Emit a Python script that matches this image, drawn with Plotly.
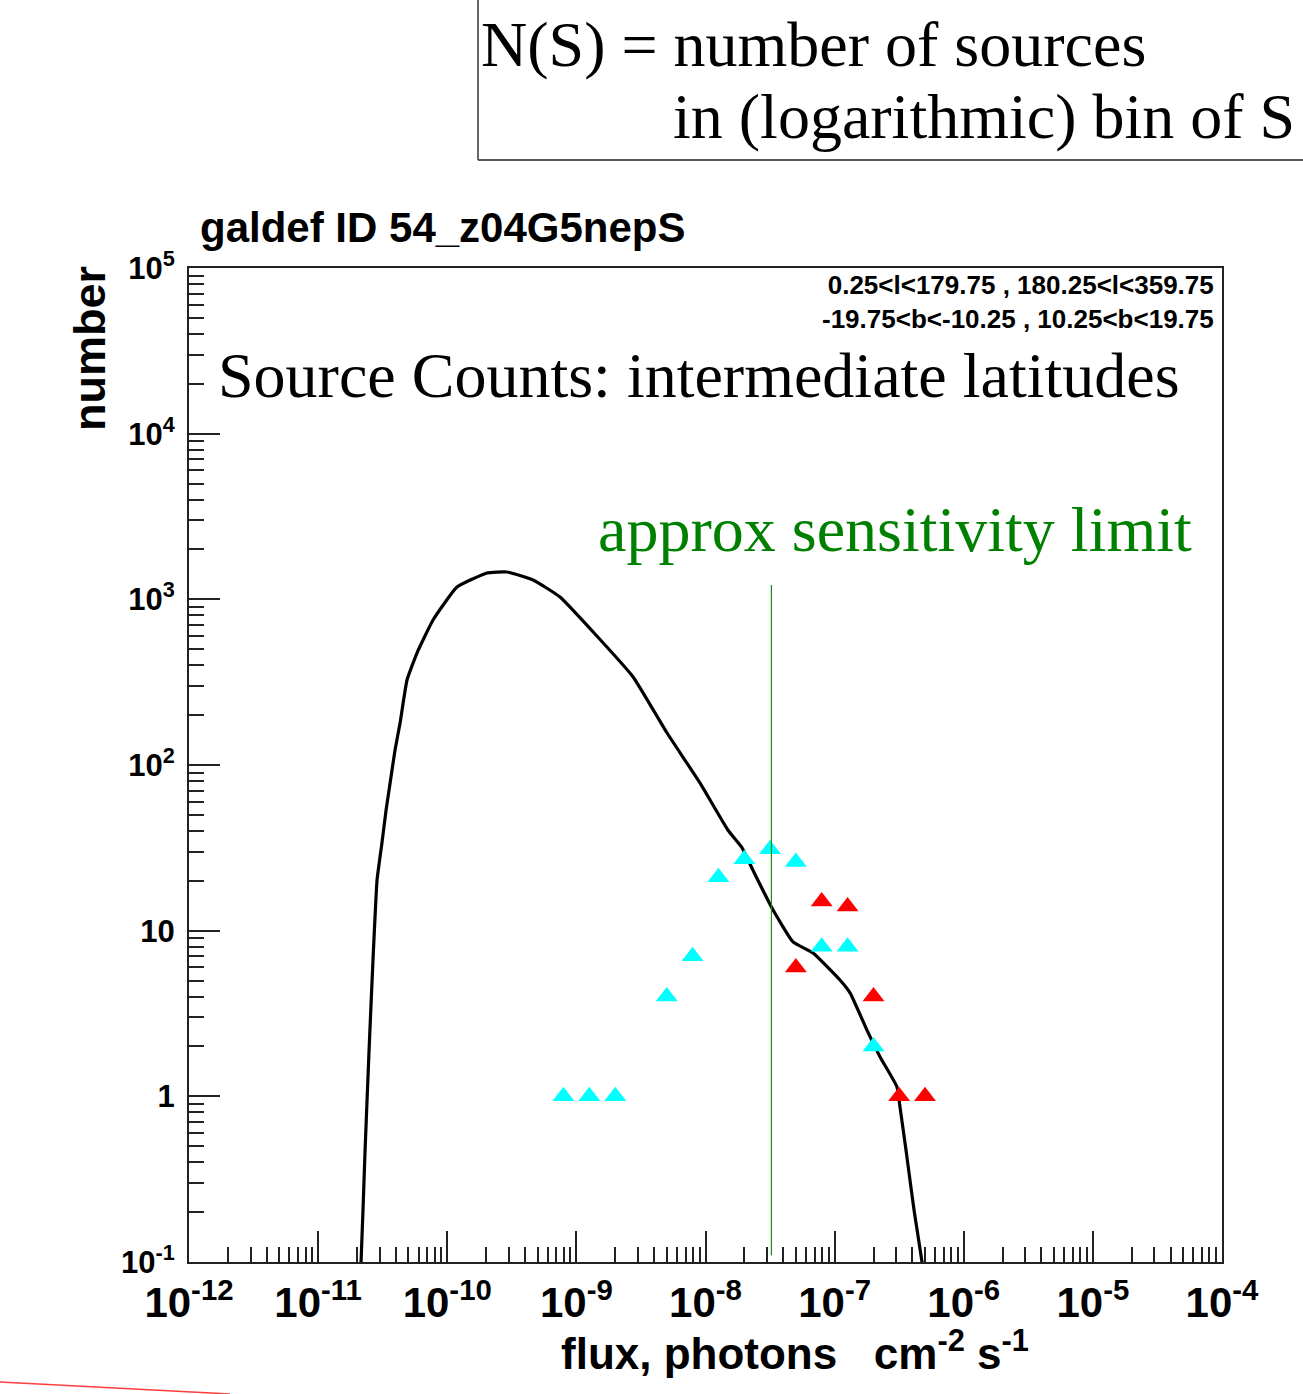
import plotly.graph_objects as go

# ---------------- data ----------------
# model curve N(S)
curve_flux = [2.04e-11, 2.15e-11, 2.31e-11, 2.48e-11, 2.66e-11, 2.86e-11, 3.12e-11, 3.36e-11,
              3.61e-11, 3.94e-11, 4.31e-11, 4.88e-11, 5.83e-11, 7.76e-11, 1.19e-10, 2.03e-10,
              2.90e-10, 4.62e-10, 7.47e-10, 1.35e-9, 2.75e-9, 5.04e-9, 9.06e-9, 1.49e-8,
              1.92e-8, 2.33e-8, 3.27e-8, 4.76e-8, 6.81e-8, 1.10e-7, 1.32e-7, 1.78e-7,
              2.25e-7, 3.04e-7, 3.21e-7, 3.57e-7, 4.12e-7, 4.75e-7, 5.01e-7]
curve_number = [0.059, 0.1, 0.474, 1.9, 6.65, 20.2, 33.8, 53.5,
                77.9, 123, 179, 326, 474, 750, 1186, 1442,
                1462, 1309, 1033, 635, 340, 156, 77.9, 40.5,
                31.6, 23.2, 13.7, 8.55, 7.33, 5.04, 4.2, 2.51,
                1.73, 1.14, 0.86, 0.474, 0.206, 0.1, 0.068]

# cyan triangles
cyan_flux = [7.94e-10, 1.26e-9, 2.0e-9, 5.01e-9, 7.94e-9, 1.26e-8, 2.0e-8, 3.16e-8,
             5.01e-8, 7.94e-8, 1.26e-7, 2.0e-7]
cyan_number = [1, 1, 1, 4, 7, 21, 27, 31, 26, 8, 8, 2]

# red triangles
red_flux = [5.01e-8, 7.94e-8, 1.26e-7, 2.0e-7, 3.16e-7, 5.01e-7]
red_number = [6, 15, 14, 4, 1, 1]

# sensitivity limit
sens_flux = 3.24e-8
sens_range = [0.11, 1220]

x_tickvals = [1e-12, 1e-11, 1e-10, 1e-9, 1e-8, 1e-7, 1e-6, 1e-5, 1e-4]
x_ticktext = ["<b>10<sup>-12</sup></b>", "<b>10<sup>-11</sup></b>", "<b>10<sup>-10</sup></b>",
              "<b>10<sup>-9</sup></b>", "<b>10<sup>-8</sup></b>", "<b>10<sup>-7</sup></b>",
              "<b>10<sup>-6</sup></b>", "<b>10<sup>-5</sup></b>", "<b>10<sup>-4</sup></b>"]
y_tickvals = [0.1, 1, 10, 100, 1000, 10000, 100000]
y_ticktext = ["<b>10<sup>-1</sup></b>", "<b>1</b>", "<b>10</b>", "<b>10<sup>2</sup></b>",
              "<b>10<sup>3</sup></b>", "<b>10<sup>4</sup></b>", "<b>10<sup>5</sup></b>"]

# ---------------- layout helpers ----------------
W, H = 1303, 1394
L, R, T, B = 189, 1222, 268, 1262


def px(x):
    return (x - L) / (R - L)


def py(y):
    return (B - y) / (B - T)


def minor_vals(e0, e1):
    return [m * 10.0 ** e for e in range(e0, e1) for m in range(2, 10)]


SANS = "Liberation Sans, Arial, sans-serif"
SERIF = "Liberation Serif, Times New Roman, serif"

fig = go.Figure()

fig.add_trace(go.Scatter(x=curve_flux, y=curve_number, mode="lines",
                         line=dict(color="black", width=3.2, shape="spline", smoothing=0.4),
                         showlegend=False))
fig.add_trace(go.Scatter(x=cyan_flux, y=cyan_number, mode="markers",
                         marker=dict(symbol="triangle-up", size=19, color="#00FFFF",
                                     line=dict(width=0)), showlegend=False, cliponaxis=False))
fig.add_trace(go.Scatter(x=red_flux, y=red_number, mode="markers",
                         marker=dict(symbol="triangle-up", size=19, color="#FF0000",
                                     line=dict(width=0)), showlegend=False, cliponaxis=False))
fig.add_trace(go.Scatter(x=[sens_flux, sens_flux], y=sens_range, mode="lines",
                         line=dict(color="#1a8a1a", width=1.2), showlegend=False))

fig.update_xaxes(type="log", range=[-12, -4], showgrid=False, zeroline=False,
                 showline=True, mirror=True, linecolor="#222", linewidth=2,
                 ticks="inside", ticklen=31, tickwidth=1.6, tickcolor="#222",
                 tickmode="array", tickvals=x_tickvals, ticktext=x_ticktext,
                 tickfont=dict(family=SANS, size=42, color="black"),
                 ticklabelstandoff=3,
                 minor=dict(ticks="inside", ticklen=15, tickwidth=1.6, tickcolor="#222",
                            tickmode="array", tickvals=minor_vals(-12, -4), showgrid=False))
fig.update_yaxes(type="log", range=[-1, 5], showgrid=False, zeroline=False,
                 showline=True, mirror=True, linecolor="#222", linewidth=2,
                 ticks="inside", ticklen=31, tickwidth=1.6, tickcolor="#222",
                 tickmode="array", tickvals=y_tickvals, ticktext=y_ticktext,
                 tickfont=dict(family=SANS, size=31, color="black"),
                 ticklabelstandoff=6,
                 minor=dict(ticks="inside", ticklen=15, tickwidth=1.6, tickcolor="#222",
                            tickmode="array", tickvals=minor_vals(-1, 5), showgrid=False))

ann = []


def add_text(text, x, y, size, family, color="black", xanchor="left", yanchor="middle", angle=0,
             align="left"):
    ann.append(dict(text=text, x=px(x), y=py(y), xref="paper", yref="paper",
                    xanchor=xanchor, yanchor=yanchor, showarrow=False, textangle=angle,
                    align=align, font=dict(family=family, size=size, color=color)))


add_text("<b>galdef ID 54_z04G5nepS</b>", 198, 228, 42, SANS)
add_text("<b>number</b>", 89, 349, 45, SANS, angle=-90, xanchor="center")
add_text("<b>0.25&lt;l&lt;179.75 , 180.25&lt;l&lt;359.75</b><br>"
         "<b>-19.75&lt;b&lt;-10.25 , 10.25&lt;b&lt;19.75</b>", 1216, 302, 26, SANS,
         xanchor="right", align="right")
add_text("Source Counts: intermediate latitudes", 216, 375, 64, SERIF)
add_text("approx sensitivity limit", 596, 529, 64, SERIF, color="#008000")
add_text("N(S) = number of sources", 479, 44, 64, SERIF)
add_text("in (logarithmic) bin of S", 671, 117, 64, SERIF)
add_text("<b>flux, photons\u00a0\u00a0\u00a0cm<sup>-2</sup>\u00a0s<sup>-1</sup></b>", 1031, 1350, 44, SANS,
         xanchor="right")

shapes = [
    dict(type="line", xref="paper", yref="paper", x0=px(478), x1=px(478), y0=py(0), y1=py(160),
         line=dict(color="#333", width=1.5)),
    dict(type="line", xref="paper", yref="paper", x0=px(478), x1=px(1303), y0=py(160), y1=py(160),
         line=dict(color="#555", width=2)),
    dict(type="line", xref="paper", yref="paper", x0=px(0), x1=px(230), y0=py(1382), y1=py(1394),
         line=dict(color="rgba(255,40,40,0.9)", width=1.5)),
]

fig.update_layout(width=W, height=H, margin=dict(l=L, r=W - R, t=T, b=H - B),
                  paper_bgcolor="white", plot_bgcolor="white",
                  annotations=ann, shapes=shapes, showlegend=False)

fig.write_html("out.html")
